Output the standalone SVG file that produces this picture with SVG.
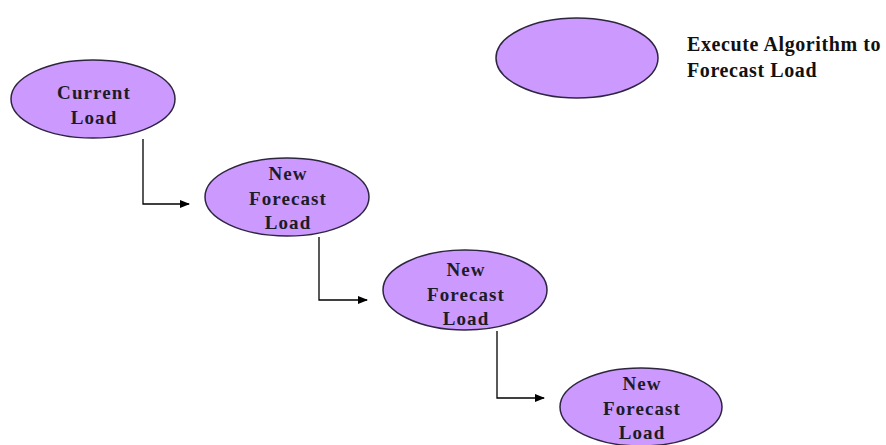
<svg xmlns="http://www.w3.org/2000/svg" width="886" height="445" viewBox="0 0 886 445">
  <style>
    .node { fill: #cc99ff; stroke: #2e2540; stroke-width: 1.5; }
    .label { font-family: "Liberation Serif", "Times New Roman", serif; font-weight: bold; font-size: 19px; letter-spacing: 1.1px; fill: #1c1c28; text-anchor: middle; }
    .legend { font-family: "Liberation Serif", "Times New Roman", serif; font-weight: bold; font-size: 20px; letter-spacing: 0.6px; fill: #111; }
    .link { fill: none; stroke: #000; stroke-width: 1.3; }
  </style>
  <defs>
    <marker id="arrow" markerWidth="10" markerHeight="8" refX="9" refY="4" orient="auto" markerUnits="userSpaceOnUse">
      <path d="M0,0 L10,4 L0,8 Z" fill="#000"/>
    </marker>
  </defs>
  <rect width="886" height="445" fill="#fff"/>

  <g id="legend">
    <ellipse class="node" cx="577" cy="58" rx="81" ry="40"/>
    <text class="legend" x="687" y="51">Execute Algorithm to</text>
    <text class="legend" x="687" y="77">Forecast Load</text>
  </g>

  <g id="current-load">
    <ellipse class="node" cx="93" cy="99" rx="82" ry="39"/>
    <text class="label" x="94" y="99">Current</text>
    <text class="label" x="94" y="124">Load</text>
  </g>

  <g id="forecast-1">
    <ellipse class="node" cx="287" cy="197" rx="82" ry="39"/>
    <text class="label" x="288" y="180">New</text>
    <text class="label" x="288" y="205">Forecast</text>
    <text class="label" x="288" y="229">Load</text>
  </g>

  <g id="forecast-2">
    <ellipse class="node" cx="465" cy="290" rx="82" ry="40"/>
    <text class="label" x="466" y="276">New</text>
    <text class="label" x="466" y="301">Forecast</text>
    <text class="label" x="466" y="325">Load</text>
  </g>

  <g id="forecast-3">
    <ellipse class="node" cx="641" cy="407" rx="81" ry="39"/>
    <text class="label" x="642" y="390">New</text>
    <text class="label" x="642" y="415">Forecast</text>
    <text class="label" x="642" y="439">Load</text>
  </g>

  <g id="connectors">
    <path class="link" d="M143,139 V204 H189" marker-end="url(#arrow)"/>
    <path class="link" d="M319,237 V300 H367" marker-end="url(#arrow)"/>
    <path class="link" d="M497,331 V398 H544" marker-end="url(#arrow)"/>
  </g>
</svg>
